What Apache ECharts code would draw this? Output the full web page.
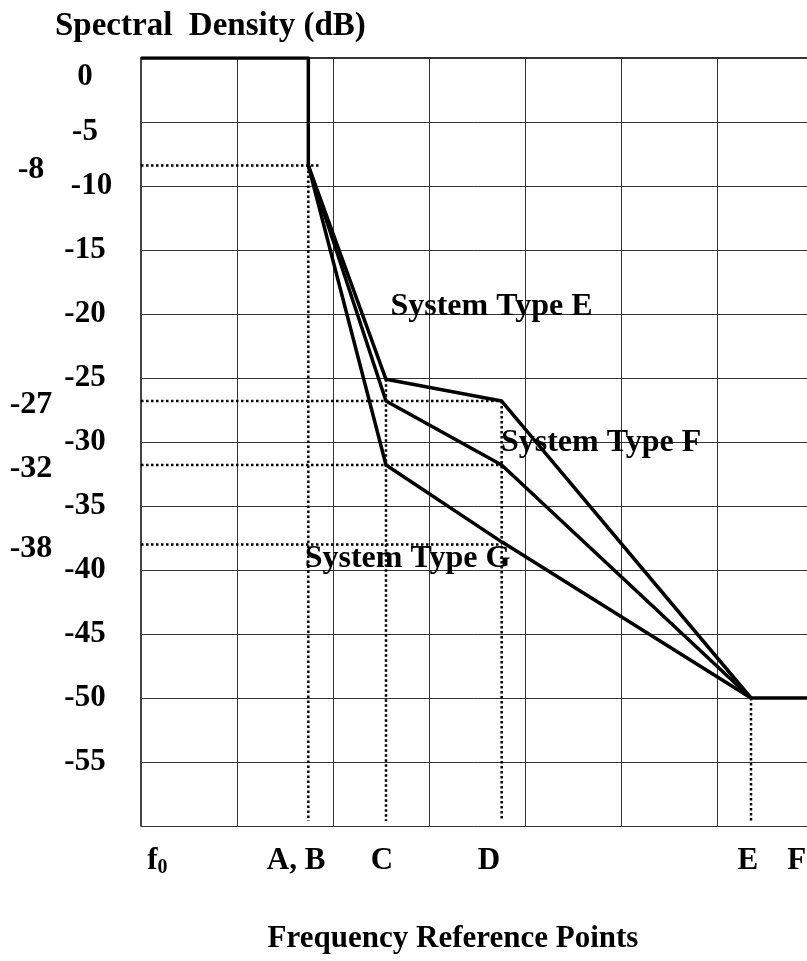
<!DOCTYPE html>
<html>
<head>
<meta charset="utf-8">
<script src="https://cdn.jsdelivr.net/npm/echarts@6/dist/echarts.min.js"></script>
<style>
  html, body { margin: 0; padding: 0; background: #fff; }
  #chart { width: 807px; height: 961px; }
</style>
</head>
<body>
<div id="chart"></div>
<script>
// x positions of the reference points (grid units), A/B, C, D, E
var breakX = [1.743, 2.552, 3.757, 6.354];
var typeE = [-8.4, -25.1, -26.8, -50];
var typeF = [-8.4, -26.8, -31.8, -50];
var typeG = [-8.4, -31.8, -37.8, -50];

// flat passband then the drop at A,B ; flat tail after E
var passX = [0, 1.743, 1.743];
var passY = [0, 0, -8.4];
var tailX = [6.354, 7];
var tailY = [-50, -50];

// dotted reference levels
var refLevels = [-8.4, -26.8, -31.8, -38];
var refLevelEnd = [1.854, 3.757, 3.757, 3.757];
var refLevelText = ['-8', '-27', '-32', '-38'];

// dotted drops to the frequency axis
var dropX = [1.743, 2.552, 3.757, 6.354];
var dropTop = [-8.4, -25.1, -26.8, -50];
var dropBottom = -59.6;

var freqLabels = ['f0', 'A, B', 'C', 'D', 'E', 'F'];
var freqLabelX = [0.17, 1.615, 2.51, 3.625, 6.32, 6.83];

var typeNames = ['System Type E', 'System Type F', 'System Type G'];
var typeNameX = [3.651, 4.792, 2.776];
var typeNameY = [-19.43, -30.05, -39.12];

var font = 'Liberation Serif';

function zip(xs, ys) {
  var out = [];
  for (var i = 0; i < xs.length; i++) out.push([xs[i], ys[i]]);
  return out;
}

function thick(data) {
  return {
    type: 'line', data: data, symbol: 'none', z: 5,
    lineStyle: { color: '#000', width: 3.5, join: 'round' }
  };
}

var series = [
  thick(zip(passX, passY)),
  thick(zip(breakX, typeE)),
  thick(zip(breakX, typeF)),
  thick(zip(breakX, typeG)),
  thick(zip(tailX, tailY))
];

refLevels.forEach(function (lv, i) {
  series.push({
    type: 'line',
    data: [[0, lv], [refLevelEnd[i], lv]],
    symbol: 'circle', symbolSize: 0, showSymbol: true,
    itemStyle: { color: '#000', opacity: 1 },
    lineStyle: { color: '#000', width: 2.5, type: 'dotted' },
    label: {
      show: true,
      position: [-110, 4],
      align: 'center', verticalAlign: 'middle',
      fontFamily: font, fontWeight: 'bold', fontSize: 32, color: '#000',
      formatter: function (p) { return p.dataIndex === 0 ? refLevelText[i] : ''; }
    },
    z: 3
  });
});

dropX.forEach(function (x, i) {
  series.push({
    type: 'line',
    data: [[x, dropTop[i]], [x, dropBottom]],
    symbol: 'none',
    lineStyle: { color: '#000', width: 2.5, type: 'dotted' },
    z: 3
  });
});

series.push({
  type: 'scatter',
  data: typeNames.map(function (n, i) { return [typeNameX[i], typeNameY[i], n]; }),
  symbolSize: 0,
  itemStyle: { color: '#000', opacity: 1 },
  label: {
    show: true, position: 'inside',
    fontFamily: font, fontWeight: 'bold', fontSize: 32, color: '#000',
    textBorderWidth: 0,
    formatter: function (p) { return p.data[2]; }
  },
  z: 6
});

var chart = echarts.init(document.getElementById('chart'));
chart.setOption({
  animation: false,
  backgroundColor: '#fff',
  title: {
    text: 'Spectral  Density (dB)',
    left: 55, top: 10, padding: 0,
    textStyle: { fontFamily: font, fontWeight: 'bold', fontSize: 33, color: '#000' }
  },
  grid: { left: 141, width: 672, top: 58, bottom: 135, outerBoundsMode: 'none', containLabel: false },
  xAxis: {
    type: 'value', min: 0, max: 7, interval: 1,
    name: 'Frequency Reference Points',
    nameLocation: 'middle', nameGap: 113,
    nameTextStyle: {
      fontFamily: font, fontWeight: 'bold', fontSize: 31, color: '#000',
      verticalAlign: 'middle', padding: [0, 48, 0, 0]
    },
    axisLine: { lineStyle: { color: '#333', width: 2 } },
    axisTick: { show: false },
    splitLine: { show: true, lineStyle: { color: '#333', width: 1 } },
    axisLabel: {
      customValues: freqLabelX,
      margin: 35,
      verticalAlign: 'middle',
      fontFamily: font, fontWeight: 'bold', fontSize: 31, color: '#000',
      formatter: function (v) {
        for (var i = 0; i < freqLabelX.length; i++) {
          if (Math.abs(freqLabelX[i] - v) < 1e-6) {
            return i === 0 ? 'f{sub|0}' : freqLabels[i];
          }
        }
        return '';
      },
      rich: {
        sub: { fontFamily: font, fontWeight: 'bold', fontSize: 20, color: '#000', padding: [14, 0, 0, 0] }
      }
    }
  },
  yAxis: {
    type: 'value', min: -60, max: 0, interval: 5,
    axisLine: { show: true, lineStyle: { color: '#444', width: 2 } },
    axisTick: { show: false },
    splitLine: { show: true, lineStyle: { color: '#333', width: 1 } },
    axisLabel: {
      margin: 56, align: 'center',
      fontFamily: font, fontWeight: 'bold', fontSize: 31, color: '#000',
      formatter: function (v) {
        if (v === -60) return '';
        if (v === 0) return '{a|0}';
        if (v === -5) return '{b|-5}';
        if (v === -10) return '{c|-10}';
        return String(v);
      },
      rich: {
        a: { fontFamily: font, fontWeight: 'bold', fontSize: 31, color: '#000', padding: [38, 0, 0, 0] },
        b: { fontFamily: font, fontWeight: 'bold', fontSize: 31, color: '#000', padding: [20, 0, 0, 0] },
        c: { fontFamily: font, fontWeight: 'bold', fontSize: 31, color: '#000', padding: [0, 0, 0, 13] }
      }
    }
  },
  series: series
});
</script>
</body>
</html>
